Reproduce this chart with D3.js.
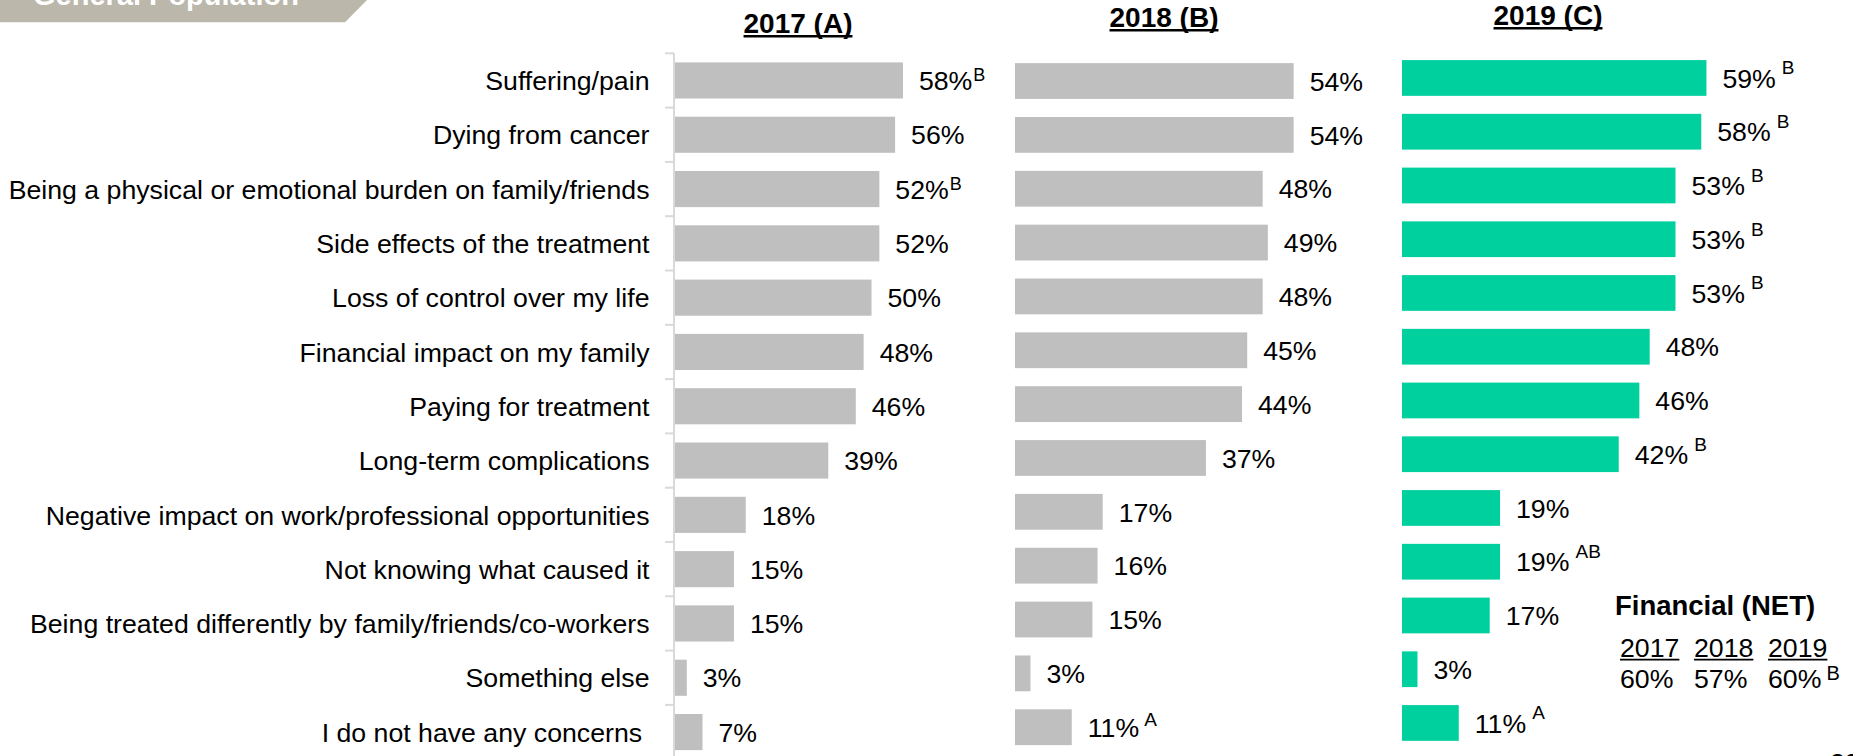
<!DOCTYPE html>
<html>
<head>
<meta charset="utf-8">
<script src="https://cdn.jsdelivr.net/npm/d3@7/dist/d3.min.js"></script>
<style>
  html, body { margin: 0; padding: 0; background: #fff; }
  svg { display: block; font-family: "Liberation Sans", Arial, sans-serif; }
</style>
</head>
<body>
<svg id="chart" width="1853" height="756"></svg>
<script>
// ---------------- DATA ----------------
const categories = [
  "Suffering/pain",
  "Dying from cancer",
  "Being a physical or emotional burden on family/friends",
  "Side effects of the treatment",
  "Loss of control over my life",
  "Financial impact on my family",
  "Paying for treatment",
  "Long-term complications",
  "Negative impact on work/professional opportunities",
  "Not knowing what caused it",
  "Being treated differently by family/friends/co-workers",
  "Something else",
  "I do not have any concerns\u00a0"
];
const values2017 = [58, 56, 52, 52, 50, 48, 46, 39, 18, 15, 15, 3, 7];
const values2018 = [54, 54, 48, 49, 48, 45, 44, 37, 17, 16, 15, 3, 11];
const values2019 = [59, 58, 53, 53, 53, 48, 46, 42, 19, 19, 17, 3, 11];
const sig2017 = ["B", "", "B", "", "", "", "", "", "", "", "", "", ""];
const sig2018 = ["", "", "", "", "", "", "", "", "", "", "", "", "A"];
const sig2019 = ["B", "B", "B", "B", "B", "", "", "B", "", "AB", "", "", "A"];
const panelTitles = ["2017 (A)", "2018 (B)", "2019 (C)"];
const bannerText = "General Population";
const netTitle = "Financial (NET)";
const netYears = ["2017", "2018", "2019"];
const netValues = ["60%", "57%", "60%"];
const netSig = ["", "", "B"];
const pageNumber = "23";

// ---------------- LAYOUT ----------------
const svg = d3.select("#chart");
const FONT = 26.7;

function underline(sel, offset, width) {
  const node = sel.node();
  const bb = node.getBBox();
  const yb = +sel.attr("y");
  svg.append("line")
    .attr("x1", bb.x).attr("x2", bb.x + bb.width)
    .attr("y1", yb + offset).attr("y2", yb + offset)
    .attr("stroke", "#000").attr("stroke-width", width);
}

const panels = [
  { values: values2017, sig: sig2017, x0: 675, w: 393, y0: 53.3, step: 54.3, color: "#bfbfbf",
    title: panelTitles[0], tx: 798, ty: 33, supGap: 1, supDy: -9, supSize: 18 },
  { values: values2018, sig: sig2018, x0: 1015, w: 516, y0: 54.1, step: 53.85, color: "#bfbfbf",
    title: panelTitles[1], tx: 1164, ty: 27, supGap: 5, supDy: -11, supSize: 19 },
  { values: values2019, sig: sig2019, x0: 1402, w: 516, y0: 51.1, step: 53.75, color: "#00cf9e",
    title: panelTitles[2], tx: 1548, ty: 25, supGap: 6, supDy: -13.4, supSize: 19 }
];

// banner
svg.append("polygon")
  .attr("points", "0,0 367,0 345,22.3 0,22.3")
  .attr("fill", "#bbb7ab");
svg.append("text")
  .attr("x", 33).attr("y", 5)
  .attr("fill", "#fff").attr("font-weight", "bold").attr("font-size", 29)
  .text(bannerText);

panels.forEach((p, pi) => {
  const y = d3.scaleBand()
    .domain(categories)
    .range([p.y0, p.y0 + p.step * categories.length])
    .paddingInner(0.335).paddingOuter(0.1675);
  const x = d3.scaleLinear().domain([0, 100]).range([p.x0, p.x0 + p.w]);
  const g = svg.append("g");

  // title
  const title = g.append("text")
    .attr("x", p.tx).attr("y", p.ty)
    .attr("text-anchor", "middle")
    .attr("font-weight", "bold").attr("font-size", 28)
    .text(p.title);
  underline(title, 3.2, 2.4);

  // bars
  g.selectAll("rect.bar")
    .data(p.values)
    .join("rect")
    .attr("class", "bar")
    .attr("x", x(0))
    .attr("y", (d, i) => y(categories[i]))
    .attr("width", d => x(d) - x(0))
    .attr("height", y.bandwidth())
    .attr("fill", p.color);

  // value labels
  const lab = g.selectAll("text.val")
    .data(p.values)
    .join("text")
    .attr("class", "val")
    .attr("x", d => x(d) + 16)
    .attr("y", (d, i) => y(categories[i]) + y.bandwidth() / 2 + 9.7)
    .attr("font-size", FONT)
    .attr("fill", "#000");
  lab.append("tspan").text(d => d + "%");
  lab.append("tspan")
    .attr("dx", p.supGap)
    .attr("dy", p.supDy)
    .attr("font-size", p.supSize)
    .text((d, i) => p.sig[i]);

  if (pi === 0) {
    // axis line with ticks at category boundaries
    const ax = p.x0 - 1;
    g.append("line")
      .attr("x1", ax).attr("x2", ax)
      .attr("y1", y.range()[0]).attr("y2", 756)
      .attr("stroke", "#d9d9d9").attr("stroke-width", 2);
    const bounds = d3.range(categories.length + 1).map(i => y.range()[0] + i * y.step());
    g.selectAll("line.tick")
      .data(bounds)
      .join("line")
      .attr("class", "tick")
      .attr("x1", ax - 9).attr("x2", ax)
      .attr("y1", d => d).attr("y2", d => d)
      .attr("stroke", "#d9d9d9").attr("stroke-width", 2);
    // category labels
    g.selectAll("text.cat")
      .data(categories)
      .join("text")
      .attr("class", "cat")
      .attr("x", 649.5)
      .attr("y", d => y(d) + y.bandwidth() / 2 + 9.7)
      .attr("text-anchor", "end")
      .attr("font-size", FONT)
      .attr("fill", "#000")
      .style("white-space", "pre")
      .text(d => d);
  }
});

// Financial (NET) block
const net = svg.append("g");
net.append("text")
  .attr("x", 1615).attr("y", 615)
  .attr("font-weight", "bold").attr("font-size", 27.5)
  .text(netTitle);
const netX = [1620, 1694, 1768];
netYears.forEach((yr, i) => {
  const yt = net.append("text")
    .attr("x", netX[i]).attr("y", 657)
    .attr("font-size", FONT)
    .text(yr);
  underline(yt, 2.6, 1.8);
  const t = net.append("text")
    .attr("x", netX[i]).attr("y", 688)
    .attr("font-size", FONT);
  t.append("tspan").text(netValues[i]);
  t.append("tspan").attr("dx", 5).attr("dy", -8).attr("font-size", 20).text(netSig[i]);
});

// page number (cut off at the bottom edge, as in the reference)
svg.append("text")
  .attr("x", 1830).attr("y", 772)
  .attr("font-size", FONT)
  .text(pageNumber);
</script>
</body>
</html>
